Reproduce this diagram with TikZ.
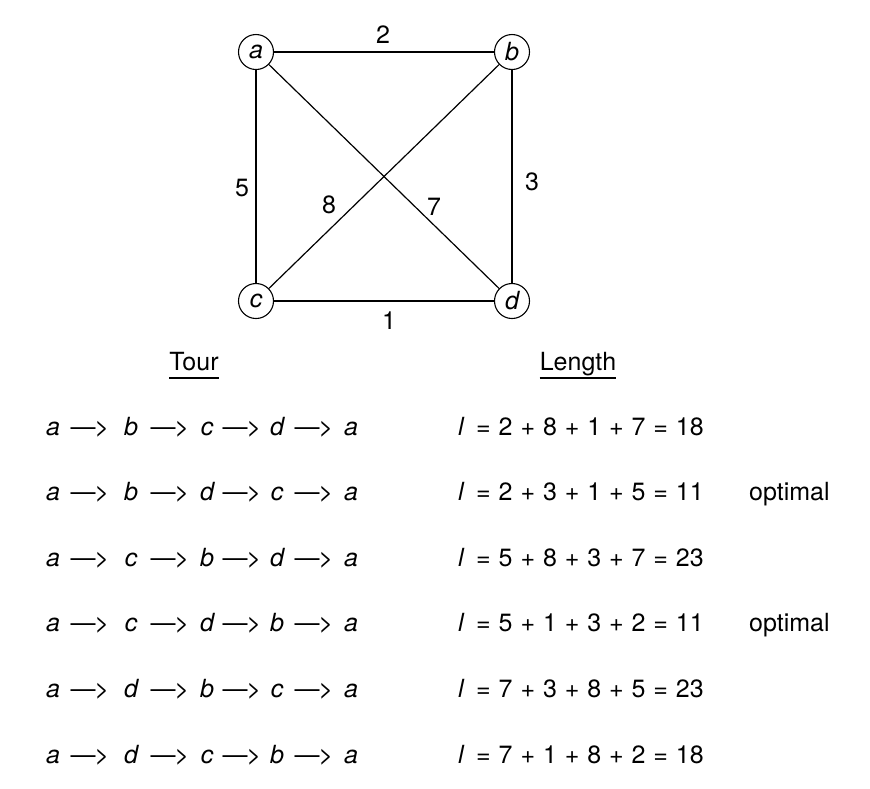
\documentclass[tikz,border=0pt]{standalone}
\usepackage{fontspec}
\setmainfont{TeX Gyre Heros}
\usetikzlibrary{calc}
\begin{document}
\begin{tikzpicture}[x=1pt,y=-1pt,
  txt/.style={font=\fontsize{25}{30}\selectfont, inner sep=0pt},
  vert/.style={circle, draw, line width=1.1pt, minimum size=35pt, inner sep=0pt, font=\fontsize{25}{30}\selectfont\itshape},
  edge/.style={line width=1.2pt},
  wlbl/.style={txt},
  tok/.style={txt, anchor=base},
  ul/.style={line width=1.1pt}]
\useasboundingbox (0,0) rectangle (870,788);
% graph
\node[vert] (a) at (256,52) {a};
\node[vert] (b) at (512,52) {b};
\node[vert] (c) at (256,301) {c};
\node[vert] (d) at (512,301) {d};
\draw[edge] (a) -- (b);
\draw[edge] (a) -- (c);
\draw[edge] (b) -- (d);
\draw[edge] (c) -- (d);
\draw[edge] (a) -- (d);
\draw[edge] (b) -- (c);
\node[wlbl] (w2) at (383,35) {2};
\node[wlbl] (w3) at (532,182) {3};
\node[wlbl] (w5) at (242,188) {5};
\node[wlbl] (w8) at (329,205) {8};
\node[wlbl] (w7) at (434,207) {7};
\node[wlbl] (w1) at (389,321) {1};
% headers
\node[tok] (tour) at (194,370) {Tour};
\node[tok] (len) at (578,370) {Length};
\draw[ul] ($(tour.base west)+(0,8)$) -- ($(tour.base east)+(0,8)$);
\draw[ul] ($(len.base west)+(0,8)$) -- ($(len.base east)+(0,8)$);
% rows
\foreach \i/\p/\q/\r/\len in {1/b/c/d/{2 + 8 + 1 + 7 = 18}, 2/b/d/c/{2 + 3 + 1 + 5 = 11}, 3/c/b/d/{5 + 8 + 3 + 7 = 23}, 4/c/d/b/{5 + 1 + 3 + 2 = 11}, 5/d/b/c/{7 + 3 + 8 + 5 = 23}, 6/d/c/b/{7 + 1 + 8 + 2 = 18}}{
  \pgfmathsetmacro\yb{435+65.6*(\i-1)}
  \node[tok] (s\i) at (53,\yb) {\itshape a};
  \node[tok] (ra\i) at (90,\yb) {---\kern-1pt>};
  \node[tok] (p\i) at (131,\yb) {\itshape \p};
  \node[tok] (rb\i) at (170,\yb) {---\kern-1pt>};
  \node[tok] (q\i) at (207,\yb) {\itshape \q};
  \node[tok] (rc\i) at (242,\yb) {---\kern-1pt>};
  \node[tok] (r\i) at (277,\yb) {\itshape \r};
  \node[tok] (rd\i) at (314,\yb) {---\kern-1pt>};
  \node[tok] (e\i) at (351,\yb) {\itshape a};
  \node[tok, anchor=base west] (l\i) at (458,\yb) {\itshape l};
  \node[tok, anchor=base west] (v\i) at (476,\yb) {\spaceskip=7.9pt = \len};
}
\node[tok, anchor=base west] (o2) at (749,500.6) {optimal};
\node[tok, anchor=base west] (o4) at (749,631.8) {optimal};
\end{tikzpicture}
\end{document}
